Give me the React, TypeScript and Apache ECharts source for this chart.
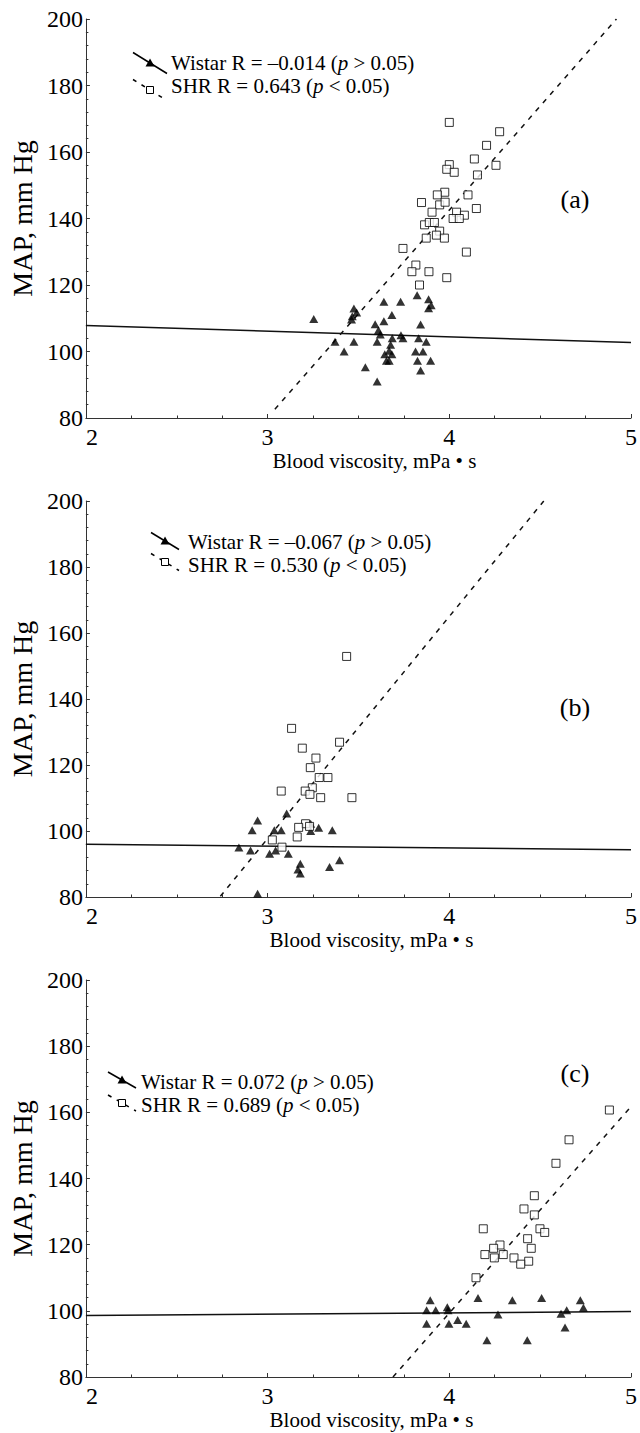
import React, { useEffect, useRef } from "react";
import * as echarts from "echarts";

const FONT = "'Liberation Serif', 'Times New Roman', serif";

const panelLetters = ["(a)", "(b)", "(c)"];
const wistarR = ["–0.014", "–0.067", "0.072"];
const shrR = ["0.643", "0.530", "0.689"];
const xAxisName = "Blood viscosity, mPa • s";
const yAxisName = "MAP, mm Hg";

// Panel (a)
const wistarA = [
  [3.254, 109.8], [3.475, 112.9], [3.49, 111.7], [3.466, 110.6], [3.462, 109.6],
  [3.64, 115.0], [3.732, 115.0], [3.684, 111.0], [3.823, 116.9], [3.886, 115.7],
  [3.9, 113.9], [3.886, 113.0], [3.592, 108.2], [3.64, 109.1], [3.842, 108.1],
  [3.61, 106.4], [3.62, 105.1], [3.686, 104.0], [3.734, 104.9], [3.745, 104.0],
  [3.831, 104.0], [3.603, 102.9], [3.371, 102.9], [3.475, 102.9], [3.873, 102.9],
  [3.421, 100.0], [3.677, 102.0], [3.669, 100.2], [3.814, 100.0], [3.855, 100.0],
  [3.645, 99.2], [3.684, 99.2], [3.654, 97.2], [3.669, 97.2], [3.825, 97.2],
  [3.897, 97.2], [3.538, 95.3], [3.842, 94.3], [3.603, 91.0],
];
const shrA = [
  [4.0, 168.9], [4.277, 166.1], [4.205, 162.0], [4.138, 157.9], [4.257, 156.0],
  [4.0, 156.2], [3.986, 154.8], [4.027, 153.9], [4.155, 153.1], [3.975, 147.9],
  [3.934, 147.1], [4.103, 147.1], [3.847, 144.8], [3.947, 144.1], [3.977, 144.9],
  [4.149, 143.0], [3.905, 141.9], [4.04, 141.9], [4.083, 141.0], [4.021, 140.0],
  [4.055, 140.0], [3.864, 138.1], [3.89, 138.8], [3.918, 138.8], [3.947, 136.2],
  [3.929, 135.0], [3.873, 134.1], [3.973, 134.1], [3.745, 131.0], [4.094, 129.9],
  [3.816, 126.0], [3.794, 124.0], [3.888, 124.0], [3.986, 122.2], [3.836, 120.0],
];
const fitWistarA = [[2, 107.8], [5, 102.7]];
const fitShrA = [[3.04, 82.6], [4.92, 200]];

// Panel (b)
const wistarB = [
  [2.945, 103.2], [2.915, 100.2], [3.105, 105.3], [3.037, 100.2], [3.075, 100.2],
  [3.237, 102.2], [3.237, 100.0], [3.281, 101.0], [3.356, 100.2], [2.842, 95.0],
  [2.906, 94.1], [3.044, 94.1], [3.011, 93.1], [3.114, 93.1], [3.18, 90.1],
  [3.396, 91.1], [3.341, 89.1], [3.167, 88.3], [3.18, 87.1], [2.945, 81.0],
];
const shrB = [
  [3.435, 152.9], [3.132, 131.1], [3.396, 126.9], [3.191, 125.1], [3.266, 122.1],
  [3.235, 119.2], [3.284, 116.2], [3.332, 116.2], [3.246, 113.1], [3.075, 112.1],
  [3.207, 112.1], [3.233, 111.1], [3.292, 110.1], [3.464, 110.1], [3.209, 102.2],
  [3.231, 101.4], [3.171, 101.1], [3.163, 98.2], [3.026, 97.3], [3.079, 95.1],
];
const fitWistarB = [[2, 96.0], [5, 94.3]];
const fitShrB = [[2.74, 80.2], [4.52, 200]];

// Panel (c)
const wistarC = [
  [3.895, 103.2], [4.158, 103.9], [4.347, 103.2], [4.508, 103.9], [4.721, 103.2],
  [3.875, 100.2], [3.925, 100.2], [3.989, 101.1], [3.993, 100.2], [4.646, 100.2],
  [4.738, 100.9], [4.268, 98.9], [4.615, 99.1], [3.875, 96.1], [3.998, 96.1],
  [4.046, 97.2], [4.093, 96.1], [4.637, 95.0], [4.207, 91.1], [4.429, 91.1],
];
const shrC = [
  [4.881, 160.7], [4.659, 151.7], [4.587, 144.6], [4.468, 134.8], [4.411, 130.8],
  [4.468, 129.0], [4.187, 124.8], [4.499, 124.8], [4.525, 123.7], [4.431, 121.8],
  [4.279, 119.9], [4.244, 118.9], [4.451, 118.9], [4.196, 117.0], [4.297, 117.0],
  [4.248, 116.0], [4.356, 116.0], [4.437, 115.0], [4.393, 114.1], [4.147, 110.0],
];
const fitWistarC = [[2, 98.6], [5, 99.8]];
const fitShrC = [[3.69, 80], [5, 161.7]];

const wistarSets = [wistarA, wistarB, wistarC];
const shrSets = [shrA, shrB, shrC];
const fitWistarSets = [fitWistarA, fitWistarB, fitWistarC];
const fitShrSets = [fitShrA, fitShrB, fitShrC];

// Layout (pixels)
const grids = [
  { left: 70, top: 19, width: 563, height: 399 },
  { left: 75, top: 501, width: 558, height: 396 },
  { left: 75, top: 980, width: 558, height: 397 },
];
const namePadLeft = [32, 26, 26];
const yNameGap = [35, 40, 40];
const letterPos = [
  [575, 199],
  [575, 707],
  [575, 1073],
];
const legendLayout = [
  { tx: 171, y1: 63, y2: 86, cx: 150, hx: 17, hy: 10.5, ty: 63, sy: 90 },
  { tx: 188, y1: 542, y2: 565, cx: 165, hx: 14, hy: 8.5, ty: 541, sy: 562 },
  { tx: 141, y1: 1082, y2: 1105, cx: 122, hx: 14, hy: 8, ty: 1080, sy: 1103 },
];

function buildGraphics() {
  const els: any[] = [];
  for (let i = 0; i < 3; i++) {
    const L = legendLayout[i];
    els.push({
      type: "line",
      shape: { x1: L.cx - L.hx, y1: L.ty - L.hy, x2: L.cx + L.hx, y2: L.ty + L.hy },
      style: { stroke: "#000", lineWidth: 1.5 },
    });
    els.push({
      type: "polygon",
      shape: {
        points: [
          [L.cx, L.ty - 4.5],
          [L.cx + 4.5, L.ty + 3.5],
          [L.cx - 4.5, L.ty + 3.5],
        ],
      },
      style: { fill: "#000" },
    });
    els.push({
      type: "line",
      shape: { x1: L.cx - L.hx, y1: L.sy - L.hy, x2: L.cx + L.hx, y2: L.sy + L.hy },
      style: { stroke: "#000", lineWidth: 1.5, lineDash: [4, 6] },
    });
    els.push({
      type: "rect",
      shape: { x: L.cx - 3.5, y: L.sy - 3.5, width: 7, height: 7 },
      style: { fill: "#fff", stroke: "#000", lineWidth: 1 },
    });
    const rich = {
      i: { fontStyle: "italic", fontSize: 21, lineHeight: 20, fontFamily: FONT, fill: "#000" },
      n: { fontSize: 21, lineHeight: 20, fontFamily: FONT, fill: "#000" },
    };
    els.push({
      type: "text",
      x: L.tx,
      y: L.y1,
      style: {
        text: `{n|Wistar R = ${wistarR[i]} (}{i|p}{n| > 0.05)}`,
        rich,
        verticalAlign: "middle",
        align: "left",
        fill: "#000",
      },
    });
    els.push({
      type: "text",
      x: L.tx,
      y: L.y2,
      style: {
        text: `{n|SHR R = ${shrR[i]} (}{i|p}{n| < 0.05)}`,
        rich,
        verticalAlign: "middle",
        align: "left",
        fill: "#000",
      },
    });
    els.push({
      type: "text",
      x: letterPos[i][0],
      y: letterPos[i][1],
      style: {
        text: panelLetters[i],
        fontSize: 26,
        fontFamily: FONT,
        fill: "#000",
        align: "center",
        verticalAlign: "middle",
      },
    });
  }
  return els;
}

export default function App() {
  const ref = useRef<HTMLDivElement>(null);
  useEffect(() => {
    if (!ref.current) return;
    const chart = echarts.init(ref.current, undefined, { renderer: "svg" });
    const axisCommon = {
      axisLine: { show: true, lineStyle: { color: "#333", width: 1 } },
      axisTick: { show: true, inside: true, length: 4, lineStyle: { color: "#333" } },
      splitLine: { show: false },
    };
    const xAxes = grids.map((_, i) => ({
      ...axisCommon,
      type: "value",
      gridIndex: i,
      min: 2,
      max: 5,
      interval: 1,
      minorTick: { show: true, splitNumber: 4, length: 2.5, lineStyle: { color: "#333" } },
      axisLabel: {
        fontFamily: FONT,
        fontSize: 24,
        color: "#000",
        margin: 7,
        alignMinLabel: "left",
      },
      name: xAxisName,
      nameLocation: "middle",
      nameGap: 32,
      nameTextStyle: {
        fontFamily: FONT,
        fontSize: 21,
        color: "#000",
        padding: [0, 0, 0, namePadLeft[i]],
      },
    }));
    const yAxes = grids.map((_, i) => ({
      ...axisCommon,
      type: "value",
      gridIndex: i,
      min: 80,
      max: 200,
      interval: 20,
      minorTick: { show: true, splitNumber: 5, length: 2.5, lineStyle: { color: "#333" } },
      axisLabel: { fontFamily: FONT, fontSize: 24, color: "#000", margin: 3 },
      name: yAxisName,
      nameLocation: "middle",
      nameRotate: 90,
      nameGap: yNameGap[i],
      nameTextStyle: { fontFamily: FONT, fontSize: 28, color: "#000" },
    }));
    const series: any[] = [];
    for (let i = 0; i < 3; i++) {
      series.push({
        type: "line",
        xAxisIndex: i,
        yAxisIndex: i,
        data: fitWistarSets[i],
        symbol: "none",
        silent: true,
        lineStyle: { color: "#111", width: 1.5 },
        z: 3,
      });
      series.push({
        type: "line",
        xAxisIndex: i,
        yAxisIndex: i,
        data: fitShrSets[i],
        symbol: "none",
        silent: true,
        lineStyle: { color: "#111", width: 1.5, type: [5, 6] },
        z: 3,
      });
      series.push({
        type: "scatter",
        xAxisIndex: i,
        yAxisIndex: i,
        data: wistarSets[i],
        symbol: "triangle",
        symbolSize: [9, 8],
        itemStyle: { color: "#000" },
        z: 4,
      });
      series.push({
        type: "scatter",
        xAxisIndex: i,
        yAxisIndex: i,
        data: shrSets[i],
        symbol: "rect",
        symbolSize: 8,
        itemStyle: { color: "#fff", borderColor: "#000", borderWidth: 1 },
        z: 4,
      });
    }
    chart.setOption({
      animation: false,
      backgroundColor: "#fff",
      textStyle: { fontFamily: FONT, color: "#000" },
      grid: grids,
      xAxis: xAxes,
      yAxis: yAxes,
      series,
      graphic: buildGraphics(),
    });
    return () => chart.dispose();
  }, []);
  return (
    <div
      ref={ref}
      style={{ position: "absolute", left: 0, top: 0, width: 640, height: 1433 }}
    />
  );
}
